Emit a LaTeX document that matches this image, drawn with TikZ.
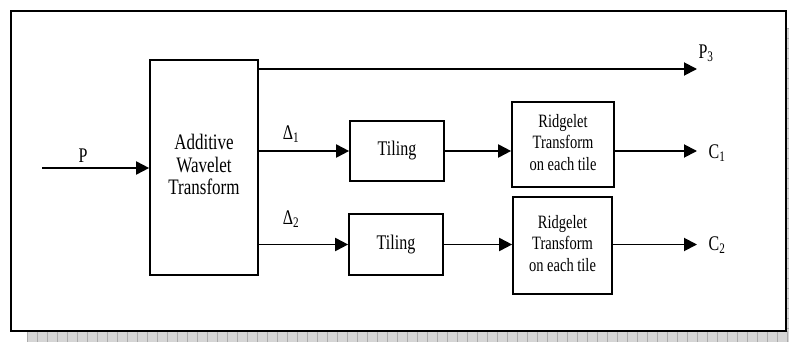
\documentclass[tikz,border=0pt]{standalone}
\usepackage{graphicx}
\usepackage{fontspec}
\setmainfont{Liberation Serif}
\usetikzlibrary{arrows.meta}

% tall, narrow lettering
\newcommand{\tallfont}[1]{\scalebox{1}[1.3]{#1}}
\newcommand{\stack}[1]{\begin{tabular}{@{}c@{}}#1\end{tabular}}

\tikzset{
  blockbox/.style={draw, line width=1.7pt, inner sep=0pt, fill=white},
  flow/.style={line width=1.9pt, -{Triangle[length=13pt,width=13pt]}},
  sig/.style={inner sep=0pt, font=\fontsize{16}{16}\selectfont},
}

\begin{document}
\begin{tikzpicture}[x=1pt, y=-1pt]
  \useasboundingbox (0,0) rectangle (789,342);

  % drop shadow of the frame
  \fill[gray!33] (27,331) rectangle (789,342);
  \fill[gray!33] (786,28) rectangle (789,331);
  \foreach \k in {0,...,76} {
    \draw[gray!65, line width=0.5pt] ({27+10*\k},331) -- ({27+10*\k},342);
  }
  \foreach \k in {0,...,30} {
    \draw[gray!65, line width=0.5pt] (786,{28+10*\k}) -- (789,{28+10*\k});
  }

  % outer frame
  \draw[line width=1.8pt, fill=white] (11,11) rectangle (786,331);

  % blocks
  \node[blockbox, minimum width=108pt, minimum height=215pt] (awt) at (204,167.5)
    {\tallfont{\fontsize{17}{17.5}\selectfont\stack{Additive\\Wavelet\\Transform}}};
  \node[blockbox, minimum width=94pt, minimum height=60pt] (t1) at (397,151)
    {\tallfont{\fontsize{16}{16}\selectfont Tiling}};
  \node[blockbox, minimum width=102pt, minimum height=85pt] (r1) at (563,144.5)
    {\tallfont{\fontsize{14.5}{16.5}\selectfont\stack{Ridgelet\\Transform\\on each tile}}};
  \node[blockbox, minimum width=94pt, minimum height=61pt] (t2) at (396,244.5)
    {\tallfont{\fontsize{16}{16}\selectfont Tiling}};
  \node[blockbox, minimum width=99pt, minimum height=97pt] (r2) at (562.5,245.5)
    {\tallfont{\fontsize{14.5}{16.5}\selectfont\stack{Ridgelet\\Transform\\on each tile}}};

  % free ends of the signal lines
  \coordinate (pin)   at (42,168);
  \coordinate (p3end) at (697,69);
  \coordinate (c1end) at (697,151);
  \coordinate (c2end) at (697,244.5);

  % connectors
  \draw[flow] (pin) -- (pin -| awt.west);
  \draw[flow] (awt.east |- p3end) -- (p3end);
  \draw[flow] (awt.east |- t1.west) -- (t1.west);
  \draw[flow] (t1.east) -- (t1.east -| r1.west);
  \draw[flow] (r1.east |- c1end) -- (c1end);
  \draw[flow] (awt.east |- t2.west) -- (t2.west);
  \draw[flow] (t2.east) -- (t2.east -| r2.west);
  \draw[flow] (r2.east |- c2end) -- (c2end);

  % signal labels
  \node[sig] (lp)  at (83,156)  {\tallfont{P}};
  \node[sig] (lp3) at (706,53)  {\tallfont{P\textsubscript{3}}};
  \node[sig] (ld1) at (291,134) {\tallfont{Δ\textsubscript{1}}};
  \node[sig] (ld2) at (291,219) {\tallfont{Δ\textsubscript{2}}};
  \node[sig] (lc1) at (717,153) {\tallfont{C\textsubscript{1}}};
  \node[sig] (lc2) at (717,245) {\tallfont{C\textsubscript{2}}};
\end{tikzpicture}
\end{document}
